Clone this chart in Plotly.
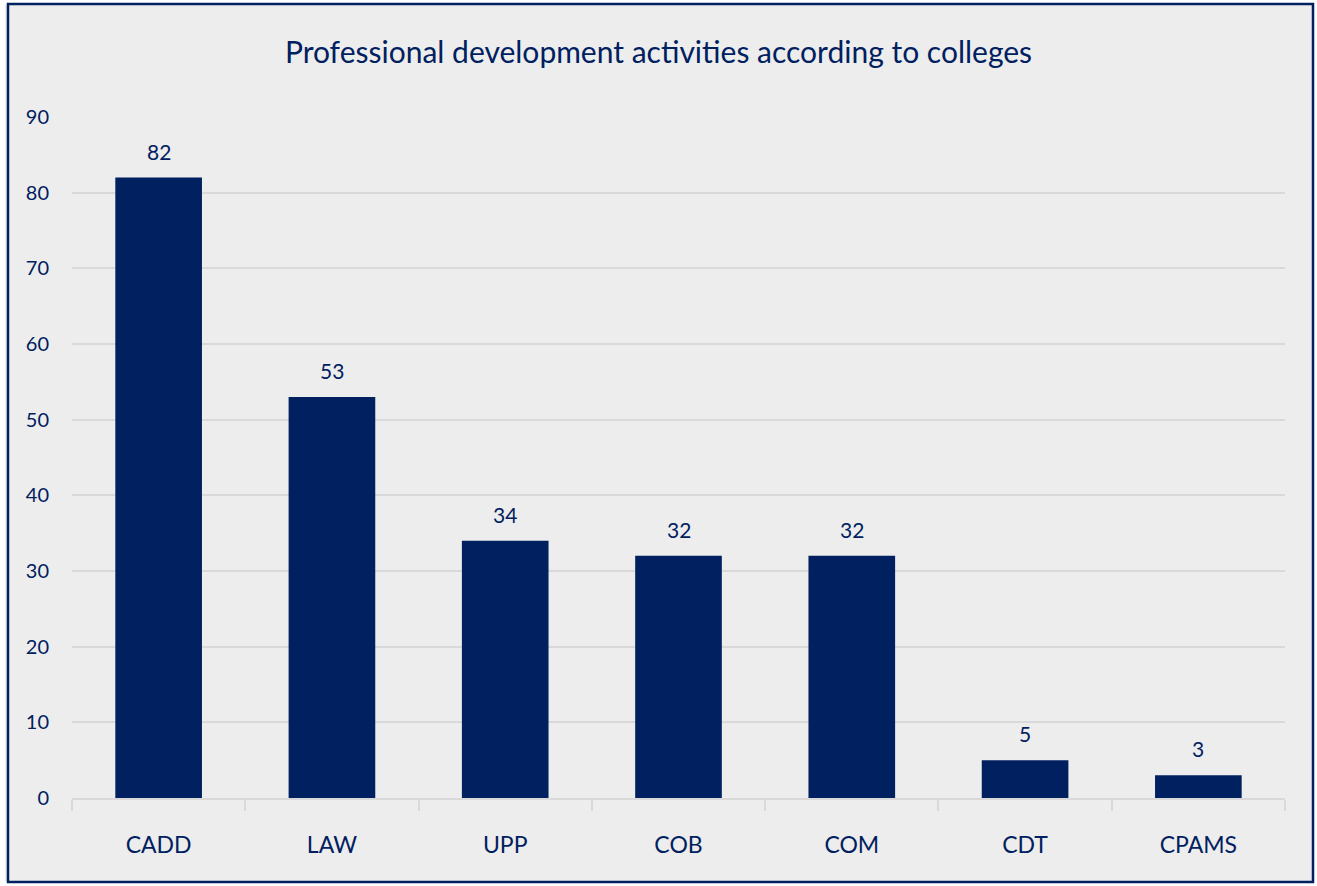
import plotly.graph_objects as go

categories = ["CADD", "LAW", "UPP", "COB", "COM", "CDT", "CPAMS"]
values = [82, 53, 34, 32, 32, 5, 3]
y_ticks = [0, 10, 20, 30, 40, 50, 60, 70, 80, 90]

navy = "#002060"
bg = "#EDEDED"
grid = "#D9D9D9"

W, H = 1317, 886
ml, mr, mt, mb = 72, 32, 117, 88
pw, ph = W - ml - mr, H - mt - mb

def px_x(p):
    return (p - ml) / pw

def px_y(p):
    return (H - mb - p) / ph

fig = go.Figure(go.Bar(
    x=categories, y=values, marker_color=navy, marker_line_width=0,
    hoverinfo="x+y",
))

for c, v in zip(categories, values):
    fig.add_annotation(x=c, y=v, text=str(v), showarrow=False, yanchor="bottom",
                       yshift=12, font=dict(family="Lato, sans-serif", size=21, color=navy))

fig.update_layout(
    width=W, height=H,
    margin=dict(l=ml, r=mr, t=mt, b=mb),
    paper_bgcolor=bg, plot_bgcolor=bg,
    bargap=0.5,
    showlegend=False,
    title=dict(text="Professional development activities according to colleges",
               x=0.5, xanchor="center", y=1 - 52 / H, yanchor="middle",
               font=dict(family="Lato, sans-serif", size=30, color=navy)),
    xaxis=dict(showgrid=False, showline=True, linecolor=grid, linewidth=1.5,
               ticks="outside", tickson="boundaries", ticklen=11, tickcolor=grid, tickwidth=1.5,
               tickfont=dict(family="Lato, sans-serif", size=23, color=navy),
               ticklabelstandoff=26),
    yaxis=dict(range=[0, 90], tickvals=y_ticks, showgrid=True, gridcolor=grid, gridwidth=1.5,
               zeroline=False, showline=False, ticks="",
               tickfont=dict(family="Lato, sans-serif", size=20, color=navy),
               ticklabelstandoff=22),
    shapes=[
        dict(type="rect", xref="paper", yref="paper",
             x0=px_x(2), x1=px_x(W - 2), y0=px_y(H - 2), y1=px_y(1),
             line=dict(color="white", width=6), layer="above"),
        dict(type="rect", xref="paper", yref="paper",
             x0=px_x(8), x1=px_x(1313), y0=px_y(882), y1=px_y(4),
             line=dict(color=navy, width=2.5), layer="above"),
    ],
)

fig.write_html("out.html", config={"displayModeBar": False},
               post_script="document.body.style.margin='0';document.body.style.overflow='hidden';")
